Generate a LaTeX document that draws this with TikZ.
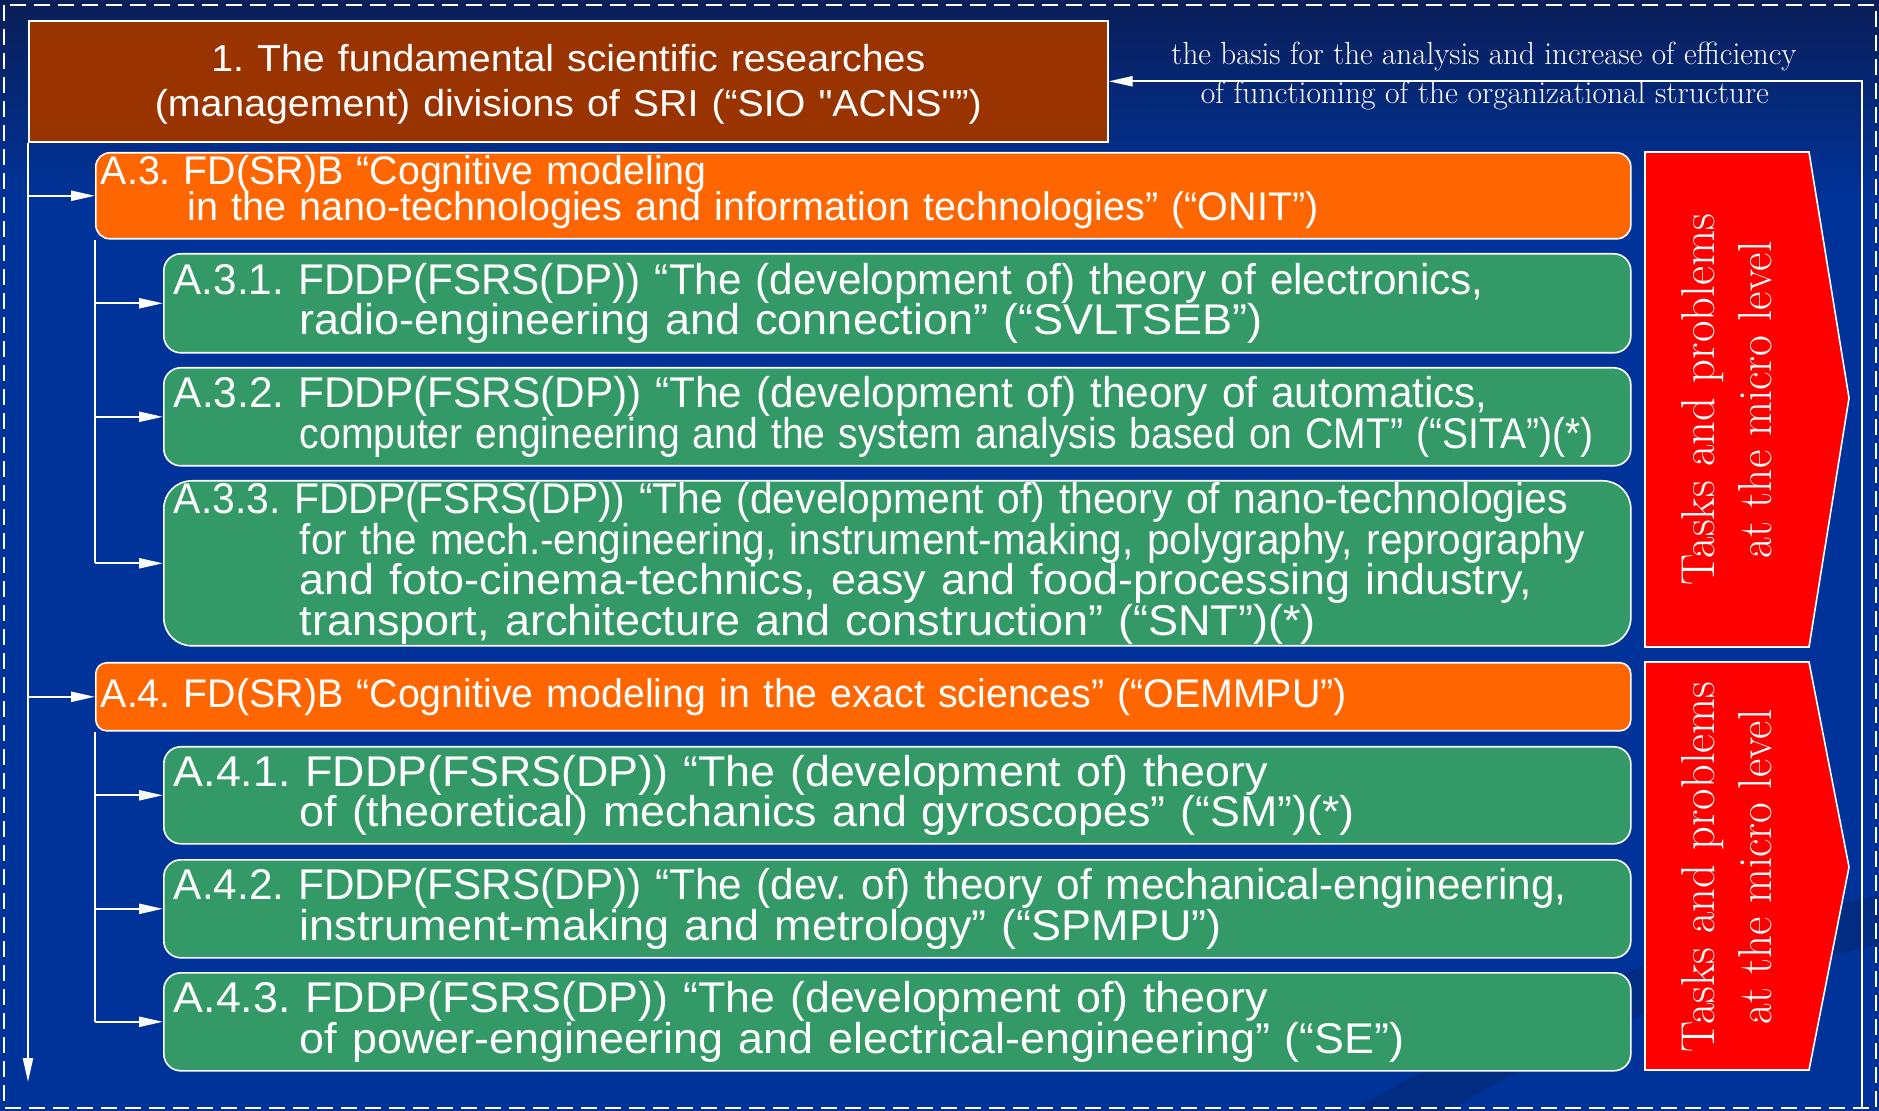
\documentclass[tikz,border=0pt]{standalone}
\usepackage{fontspec}
\setsansfont{Liberation Sans}[Ligatures=TeXOff]
\usepackage{graphicx}
\usetikzlibrary{arrows.meta}
\definecolor{bgblue}{HTML}{003399}
\definecolor{bgtop}{HTML}{0A1E58}
\definecolor{bgdark}{HTML}{022A78}
\definecolor{brownbox}{HTML}{993300}
\definecolor{orangebox}{HTML}{FF6600}
\definecolor{greenbox}{HTML}{339966}
\definecolor{redbox}{HTML}{FF0000}
\newdimen\pxu \pxu=0.5pt
\newcommand\fitto[2]{\resizebox{#1\pxu}{\height}{#2}}
\frenchspacing
\tikzset{
 conn/.style={draw=white, line width=1.1pt},
 arr/.style={conn, -{Triangle[length=12pt,width=5pt]}},
 boxbase/.style={draw=white, line width=0.8pt, anchor=north west, inner ysep=0pt, align=left, text=white, execute at begin node={\lineskiplimit=-100pt\frenchspacing}},
 obox/.style={boxbase, fill=orangebox, minimum width=767.5pt, inner xsep=2.5pt, text width=762.5pt, font=\sffamily\fontsize{20}{18}\selectfont},
 gbox/.style={boxbase, fill=greenbox, minimum width=733.5pt, inner xsep=5pt, text width=723.5pt, font=\sffamily\fontsize{21.5}{20.25}\selectfont, rounded corners=8.5pt},
 redarrow/.style={draw=white, line width=0.8pt, fill=redbox},
 vlabel/.style={rotate=90, align=center, text=white, font=\rmfamily\fontsize{23.8}{28.5}\selectfont, inner sep=0pt},
 flabel/.style={anchor=base, text=white, font=\rmfamily\fontsize{16}{19}\selectfont, inner sep=0pt},
}
\begin{document}
\begin{tikzpicture}[x=0.5pt,y=-0.5pt]
\useasboundingbox (0,0) rectangle (1879,1111);
% background
\fill[bgblue] (0,0) rectangle (1879,1111);
\shade[top color=bgtop, bottom color=bgblue] (0,0) rectangle (1879,200);
\fill[bgdark, opacity=0.7] (1350,1111) .. controls (1550,1000) and (1700,930) .. (1879,895) -- (1879,945) .. controls (1720,975) and (1560,1040) .. (1450,1111) -- cycle;
\draw[white, line width=1pt, dash pattern=on 8pt off 4pt] (4,5) rectangle (1876,1108);

% top box
\node[boxbase, fill=brownbox, align=center, minimum width=539.5pt, minimum height=60.5pt, text width=530pt, inner xsep=4.75pt, font=\sffamily\fontsize{18.75}{22.5}\selectfont] (brown) at (28,20)
 {\rule{0pt}{16.9pt}\fitto{714}{1. The fundamental scientific researches}\\\fitto{827}{(management) divisions of SRI (“SIO "ACNS"”)}};

% A.3 group
\node[obox, minimum height=43pt, rounded corners=7pt] (A3) at (95,152)
 {\fitto{606}{A.3. FD(SR)B “Cognitive modeling}\\\hspace*{43.5pt}\fitto{1131}{in the nano-technologies and information technologies” (“ONIT”)}\rule[-7.8pt]{0pt}{1pt}};
\node[gbox, minimum height=49.5pt] (A31) at (163,253)
 {\fitto{1310}{A.3.1. FDDP(FSRS(DP)) “The (development of) theory of electronics,}\\\hspace*{63pt}\fitto{963}{radio-engineering and connection” (“SVLTSEB”)}};
\node[gbox, minimum height=49pt] (A32) at (163,367)
 {\fitto{1314}{A.3.2. FDDP(FSRS(DP)) “The (development of) theory of automatics,}\\\hspace*{63pt}\fitto{1294}{computer engineering and the system analysis based on CMT” (“SITA”)(*)}};
\node[gbox, minimum height=82.5pt, rounded corners=14pt] (A33) at (163,480)
 {\fitto{1394}{A.3.3. FDDP(FSRS(DP)) “The (development of) theory of nano-technologies}\\\hspace*{63pt}\fitto{1285}{for the mech.-engineering, instrument-making, polygraphy, reprography}\\\hspace*{63pt}\fitto{1232}{and foto-cinema-technics, easy and food-processing industry,}\\\hspace*{63pt}\fitto{1016}{transport, architecture and construction” (“SNT”)(*)}};

% A.4 group
\node[obox, minimum height=34pt, rounded corners=5.5pt] (A4) at (95,662)
 {\fitto{1246}{A.4. FD(SR)B “Cognitive modeling in the exact sciences” (“OEMMPU”)}};
\node[gbox, minimum height=48.5pt] (A41) at (163,746)
 {\fitto{1094}{A.4.1. FDDP(FSRS(DP)) “The (development of) theory}\\\hspace*{63pt}\fitto{1055}{of (theoretical) mechanics and gyroscopes” (“SM”)(*)}};
\node[gbox, minimum height=49pt] (A42) at (163,859)
 {\fitto{1393}{A.4.2. FDDP(FSRS(DP)) “The (dev. of) theory of mechanical-engineering,}\\\hspace*{63pt}\fitto{922}{instrument-making and metrology” (“SPMPU”)}};
\node[gbox, minimum height=49pt] (A43) at (163,972)
 {\fitto{1094}{A.4.3. FDDP(FSRS(DP)) “The (development of) theory}\\\hspace*{63pt}\fitto{1105}{of power-engineering and electrical-engineering” (“SE”)}};

% red arrows with vertical text
\draw[redarrow] (1645,152) -- (1809,152) -- (1849,398) -- (1809,647) -- (1645,647) -- cycle;
\node[vlabel] (T1) at (1727,400) {\fitto{372}{Tasks and problems}\\\fitto{317}{at the micro level}};
\draw[redarrow] (1645,662) -- (1809,662) -- (1849,867) -- (1809,1070) -- (1645,1070) -- cycle;
\node[vlabel] (T2) at (1727,867) {\fitto{371}{Tasks and problems}\\\fitto{315}{at the micro level}};

% connectors
\coordinate (outEnd) at (28,1082);
\draw[arr] (brown.south west) -- (outEnd);
\draw[arr] (brown.south west |- A3.west) -- (A3.west);
\draw[arr] (brown.south west |- A4.west) -- (A4.west);
\draw[conn] (A3.south west) -- (A3.south west |- A33.west);
\foreach \n in {A31,A32,A33} \draw[arr] (A3.south west |- \n.west) -- (\n.west);
\draw[conn] (A4.south west) -- (A4.south west |- A43.west);
\foreach \n in {A41,A42,A43} \draw[arr] (A4.south west |- \n.west) -- (\n.west);

% feedback loop
\coordinate (fbStart) at (1862,1109);
\draw[arr] (fbStart) |- (brown.east);
\node[flabel] (fb1) at (1484,65) {\fitto{625}{the basis for the analysis and increase of efficiency}};
\node[flabel] (fb2) at (1485,104) {\fitto{568}{of functioning of the organizational structure}};
\end{tikzpicture}
\end{document}
